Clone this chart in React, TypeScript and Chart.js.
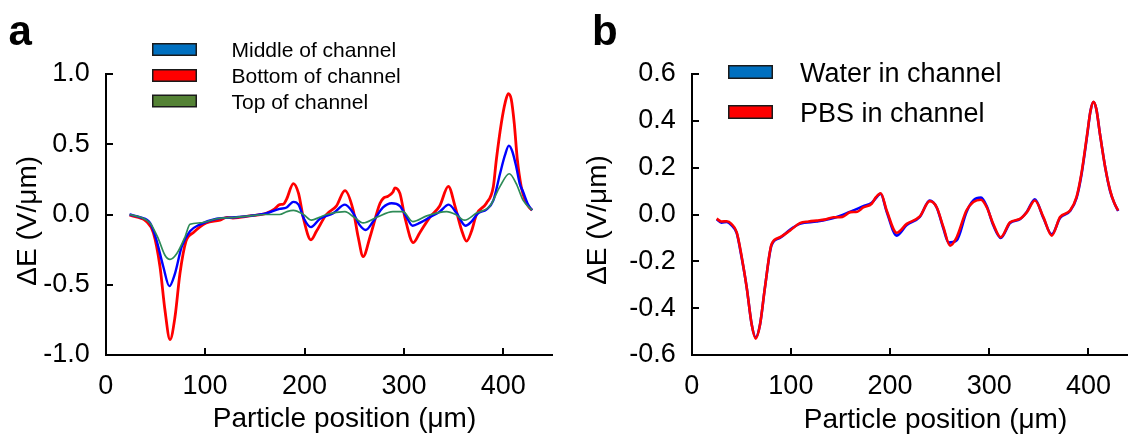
import React, { useEffect, useRef } from 'react';
import { Chart, registerables } from 'chart.js';

Chart.register(...registerables);

const FONT = "'Liberation Sans', Arial, Helvetica, sans-serif";

// ---------- shared ----------
const xTicks = [0, 100, 200, 300, 400];
const xMax = 450;
const xTitle = 'Particle position (μm)';
const yTitle = 'ΔE (V/μm)';

// ---------- panel a ----------
const aYTicks = [-1, -0.5, 0, 0.5, 1];
const aLegendLabels = ['Middle of channel', 'Bottom of channel', 'Top of channel'];

const bottomX = [24, 32, 41, 48, 54.6, 59.6, 64.7, 69.7, 74.7, 80.8, 88, 101, 115, 122, 128, 145, 162, 170, 175, 179, 182, 188.8, 194, 199, 206.5, 212, 222, 232, 240.7, 249, 254, 259, 265.9, 276, 280, 284, 289, 291, 296, 301, 309.5, 316, 326, 336, 344.7, 351.4, 358, 363, 368, 373, 383, 390, 393, 398, 402, 405, 408, 411, 414, 418, 422, 426, 429];
const bottomY = [-0.005, -0.02, -0.05, -0.13, -0.37, -0.68, -0.89, -0.73, -0.42, -0.19, -0.13, -0.06, -0.04, -0.02, -0.025, -0.01, 0.01, 0.04, 0.07, 0.075, 0.11, 0.22, 0.15, -0.03, -0.18, -0.12, 0, 0.06, 0.17, 0.03, -0.16, -0.3, -0.16, 0.08, 0.12, 0.13, 0.16, 0.19, 0.15, -0.02, -0.2, -0.13, -0.02, 0.06, 0.2, 0.06, -0.11, -0.19, -0.12, 0, 0.08, 0.2, 0.39, 0.65, 0.8, 0.86, 0.82, 0.65, 0.4, 0.2, 0.1, 0.05, 0.03];

const middleX = [24, 35, 44.6, 51, 57.9, 64, 69.7, 76.4, 84.8, 95, 111.6, 130, 145, 162, 175, 182, 188.8, 194, 199.5, 206.5, 215.6, 229, 240.7, 249, 255, 261.5, 269, 279, 287.6, 296, 302.8, 308.8, 316, 326, 336, 345, 353, 362, 368, 374.9, 383, 390, 396.7, 401.6, 405.6, 409, 413, 416.5, 420, 425, 429];
const middleY = [0, -0.02, -0.06, -0.18, -0.37, -0.51, -0.42, -0.23, -0.12, -0.07, -0.03, -0.02, -0.01, 0.01, 0.04, 0.05, 0.09, 0.07, -0.03, -0.09, -0.03, 0.01, 0.07, 0.01, -0.07, -0.11, -0.05, 0.05, 0.08, 0.06, -0.02, -0.08, -0.06, -0.02, 0.02, 0.07, 0.01, -0.08, -0.05, 0.01, 0.035, 0.1, 0.29, 0.42, 0.49, 0.45, 0.34, 0.22, 0.16, 0.07, 0.03];

const topX = [24, 35, 44.6, 52.8, 59.6, 64.7, 71.4, 79.8, 84.8, 95, 111.6, 130, 145, 160, 175, 182, 188.8, 199, 207, 215, 222, 240.7, 250, 259, 272.6, 289, 299, 309, 322.9, 343, 352, 361, 373, 386.6, 396.7, 406, 413, 420, 429];
const topY = [0, -0.02, -0.06, -0.17, -0.29, -0.32, -0.28, -0.16, -0.07, -0.06, -0.03, -0.02, -0.01, 0, 0, 0.02, 0.03, 0, -0.04, -0.02, 0, 0.02, -0.02, -0.06, -0.02, 0.02, 0.02, -0.05, -0.01, 0.02, 0, -0.04, 0.01, 0.06, 0.2, 0.29, 0.22, 0.1, 0.03];

// ---------- panel b ----------
const bYTicks = [-0.6, -0.4, -0.2, 0, 0.2, 0.4, 0.6];
const bLegendLabels = ['Water in channel', 'PBS in channel'];

const pbsX = [25.2, 30, 35.3, 40, 45.4, 50.4, 55.4, 60.5, 64.5, 68.9, 73.9, 80.6, 89, 99, 109, 118, 126, 134, 143, 152, 160, 167, 173, 181.5, 186, 190.6, 196.6, 206.7, 216.8, 230, 240, 247, 253.8, 260.5, 267.2, 277, 284, 291.7, 297.5, 304, 311.6, 321, 331, 338, 346, 354.6, 363, 371.4, 381.5, 388, 393, 398.8, 402, 405, 408, 411.6, 417, 421.9, 426, 430];
const pbsY = [-0.018, -0.03, -0.029, -0.04, -0.076, -0.18, -0.31, -0.47, -0.53, -0.47, -0.31, -0.126, -0.097, -0.069, -0.037, -0.03, -0.026, -0.022, -0.012, -0.01, 0.01, 0.012, 0.03, 0.046, 0.075, 0.091, 0.017, -0.078, -0.04, -0.008, 0.057, 0.031, -0.054, -0.133, -0.097, 0.017, 0.053, 0.063, 0.031, -0.04, -0.097, -0.033, -0.019, 0.01, 0.06, -0.011, -0.09, -0.011, 0.017, 0.074, 0.176, 0.345, 0.44, 0.481, 0.45, 0.345, 0.2, 0.103, 0.05, 0.017];

const waterX = [25.2, 30, 35.3, 40, 45.4, 50.4, 55.4, 60.5, 64.5, 68.9, 73.9, 80.6, 89, 99, 109, 126, 143, 160, 173, 181.5, 190.6, 196.6, 206.7, 216.8, 230, 240, 247, 253.8, 259, 267.2, 277, 284, 291.7, 297.5, 304, 311.6, 321, 331, 338, 346, 354.6, 363, 371.4, 381.5, 388, 393, 398.8, 402, 405, 408, 411.6, 417, 421.9, 426, 430];
const waterY = [-0.02, -0.035, -0.032, -0.045, -0.08, -0.185, -0.31, -0.47, -0.525, -0.47, -0.31, -0.13, -0.1, -0.065, -0.04, -0.03, -0.015, 0.012, 0.035, 0.05, 0.088, 0.012, -0.09, -0.045, -0.01, 0.06, 0.03, -0.06, -0.12, -0.11, 0.01, 0.06, 0.072, 0.035, -0.045, -0.1, -0.036, -0.02, 0.012, 0.065, -0.015, -0.085, -0.015, 0.015, 0.07, 0.17, 0.34, 0.44, 0.48, 0.45, 0.345, 0.2, 0.1, 0.05, 0.015];

const pts = (xs: number[], ys: number[]) => xs.map((x, i) => ({ x, y: ys[i] }));

type LegendItem = { label: string; fill: string };
type PanelSpec = {
  left: number;
  width: number;
  yAxisWidth: number;
  padRight: number;
  yMin: number;
  yMax: number;
  yTicks: number[];
  datasets: any[];
  letter: string;
  letterX: number;
  letterY: number;
  legend: LegendItem[];
  legendFont: number;
  boxX: number;
  boxW: number;
  boxH: number;
  rowY: number[];
  textX: number;
  yTitleX: number;
  yTitleY: number;
  xTitleX: number;
  xTitleY: number;
};

const AXIS_COLOR = '#000000';

const makeDecor = (p: PanelSpec) => ({
  id: 'decor' + p.letter,
  afterDraw(chart: any) {
    const ctx: CanvasRenderingContext2D = chart.ctx;
    const ox = p.left;
    const xs = chart.scales.x;
    const ys = chart.scales.y;
    const L = Math.round(xs.getPixelForValue(0));
    const R = Math.round(xs.getPixelForValue(xMax));
    const T = Math.round(ys.getPixelForValue(p.yMax));
    const B = Math.round(ys.getPixelForValue(p.yMin));
    ctx.save();
    // axis lines
    ctx.fillStyle = AXIS_COLOR;
    ctx.fillRect(L - 1, T - 1, 2, B - T + 2);
    ctx.fillRect(L - 1, B - 1, R - L + 1, 2);
    // inward tick marks
    for (const v of xTicks) {
      const px = Math.round(xs.getPixelForValue(v));
      ctx.fillRect(px - 1, B - 7, 2, 7);
    }
    for (const v of p.yTicks) {
      const py = Math.round(ys.getPixelForValue(v));
      ctx.fillRect(L, py - 1, 7, 2);
    }
    // panel letter
    ctx.fillStyle = '#000000';
    ctx.font = `bold 42px ${FONT}`;
    ctx.textAlign = 'left';
    ctx.textBaseline = 'alphabetic';
    ctx.fillText(p.letter, p.letterX - ox, p.letterY);
    // legend
    ctx.font = `${p.legendFont}px ${FONT}`;
    p.legend.forEach((it, i) => {
      const cy = p.rowY[i];
      const bx = p.boxX - ox;
      const by = cy - p.boxH / 2;
      ctx.fillStyle = '#1a1a1a';
      ctx.fillRect(bx, by, p.boxW, p.boxH);
      ctx.fillStyle = it.fill;
      ctx.fillRect(bx + 1.5, by + 1.5, p.boxW - 3, p.boxH - 3);
      ctx.fillStyle = '#000';
      ctx.fillText(it.label, p.textX - ox, cy + 0.358 * p.legendFont);
    });
    // axis titles
    ctx.font = `28px ${FONT}`;
    ctx.textAlign = 'center';
    ctx.fillText(xTitle, p.xTitleX - ox, p.xTitleY);
    ctx.translate(p.yTitleX - ox, p.yTitleY);
    ctx.rotate(-Math.PI / 2);
    ctx.fillText(yTitle, 0, 0);
    ctx.restore();
  },
});

function Panel({ p }: { p: PanelSpec }) {
  const ref = useRef<HTMLCanvasElement | null>(null);
  useEffect(() => {
    if (!ref.current) return;
    const chart = new Chart(ref.current, {
      type: 'line',
      data: { datasets: p.datasets },
      options: {
        animation: false,
        responsive: false,
        devicePixelRatio: 1,
        layout: { padding: { top: 74, right: p.padRight, left: 0, bottom: 0 } },
        plugins: { legend: { display: false }, tooltip: { enabled: false } },
        elements: { point: { radius: 0 } },
        scales: {
          x: {
            type: 'linear',
            min: 0,
            max: xMax,
            afterBuildTicks: (s: any) => {
              s.ticks = xTicks.map((v) => ({ value: v }));
            },
            afterFit: (s: any) => {
              s.height = 80;
            },
            grid: { display: false },
            border: { display: false },
            ticks: {
              color: '#000',
              padding: 7,
              maxRotation: 0,
              font: { family: FONT, size: 27 },
              callback: (v: any) => String(v),
            },
          },
          y: {
            type: 'linear',
            min: p.yMin,
            max: p.yMax,
            afterBuildTicks: (s: any) => {
              s.ticks = p.yTicks.map((v) => ({ value: v }));
            },
            afterFit: (s: any) => {
              s.width = p.yAxisWidth;
            },
            grid: { display: false },
            border: { display: false },
            ticks: {
              color: '#000',
              padding: 8,
              font: { family: FONT, size: 27 },
              callback: (v: any) => Number(v).toFixed(1),
            },
          },
        },
      } as any,
      plugins: [makeDecor(p)],
    });
    return () => chart.destroy();
  }, [p]);
  return (
    <div style={{ position: 'absolute', left: p.left, top: 0, width: p.width, height: 435 }}>
      <canvas ref={ref} width={p.width} height={435} style={{ width: p.width, height: 435, display: 'block' }} />
    </div>
  );
}

const line = (label: string, data: any[], color: string, width: number, order: number) => ({
  label,
  data,
  borderColor: color,
  backgroundColor: color,
  borderWidth: width,
  pointRadius: 0,
  fill: false,
  cubicInterpolationMode: 'monotone',
  borderJoinStyle: 'round',
  order,
});

const panelA: PanelSpec = {
  left: 0,
  width: 564,
  yAxisWidth: 105.7,
  padRight: 11,
  yMin: -1,
  yMax: 1,
  yTicks: aYTicks,
  datasets: [
    line(aLegendLabels[0], pts(middleX, middleY), '#0000ff', 2.4, 2),
    line(aLegendLabels[1], pts(bottomX, bottomY), '#ff0000', 2.8, 3),
    line(aLegendLabels[2], pts(topX, topY), '#2e8b57', 1.7, 1),
  ],
  letter: 'a',
  letterX: 8.5,
  letterY: 45,
  legend: [
    { label: aLegendLabels[0], fill: '#0070c0' },
    { label: aLegendLabels[1], fill: '#ff0000' },
    { label: aLegendLabels[2], fill: '#548235' },
  ],
  legendFont: 21,
  boxX: 152,
  boxW: 45,
  boxH: 13,
  rowY: [49.5, 75.5, 101],
  textX: 231.5,
  yTitleX: 35.7,
  yTitleY: 220.8,
  xTitleX: 344.5,
  xTitleY: 426.7,
};

const panelB: PanelSpec = {
  left: 564,
  width: 577,
  yAxisWidth: 127.7,
  padRight: 3,
  yMin: -0.6,
  yMax: 0.6,
  yTicks: bYTicks,
  datasets: [
    line(bLegendLabels[0], pts(waterX, waterY), '#0000ff', 2.6, 2),
    line(bLegendLabels[1], pts(pbsX, pbsY), '#ff0000', 2.6, 1),
  ],
  letter: 'b',
  letterX: 592,
  letterY: 45,
  legend: [
    { label: bLegendLabels[0], fill: '#0070c0' },
    { label: bLegendLabels[1], fill: '#ff0000' },
  ],
  legendFont: 27,
  boxX: 728,
  boxW: 45,
  boxH: 14,
  rowY: [72, 112],
  textX: 800,
  yTitleX: 605.7,
  yTitleY: 220,
  xTitleX: 935.5,
  xTitleY: 428.3,
};

export default function App() {
  return (
    <div
      style={{
        position: 'absolute',
        left: 0,
        top: 0,
        width: 1128,
        height: 435,
        overflow: 'hidden',
        background: '#fff',
      }}
    >
      <Panel p={panelA} />
      <Panel p={panelB} />
    </div>
  );
}
